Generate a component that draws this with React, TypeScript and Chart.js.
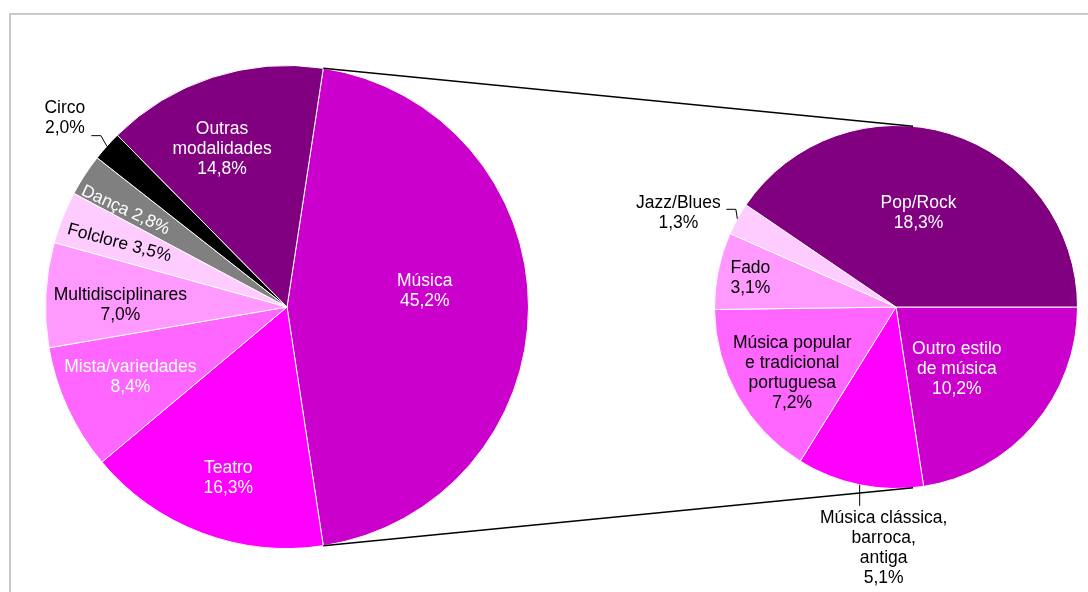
import React, { useEffect, useRef } from 'react';
import { Chart, registerables } from 'chart.js';

Chart.register(...registerables);

// ---- Data ----
const mainCategories = ['Música', 'Teatro', 'Mista/variedades', 'Multidisciplinares', 'Folclore', 'Dança', 'Circo', 'Outras modalidades'];
const mainValues = [45.2, 16.3, 8.4, 7.0, 3.5, 2.8, 2.0, 14.8];
const mainLabelLines = [['Música'], ['Teatro'], ['Mista/variedades'], ['Multidisciplinares'], ['Folclore'], ['Dança'], ['Circo'], ['Outras', 'modalidades']];

const musicCategories = ['Outro estilo de música', 'Música clássica, barroca, antiga', 'Música popular e tradicional portuguesa', 'Fado', 'Jazz/Blues', 'Pop/Rock'];
const musicValues = [10.2, 5.1, 7.2, 3.1, 1.3, 18.3];
const musicLabelLines = [['Outro estilo', 'de música'], ['Música clássica,', 'barroca,', 'antiga'], ['Música popular', 'e tradicional', 'portuguesa'], ['Fado'], ['Jazz/Blues'], ['Pop/Rock']];

// ---- Styles ----
const mainColors = ['#CC00CC', '#FF00FF', '#FF66FF', '#FF99FF', '#FFCCFF', '#808080', '#000000', '#800080'];
const musicColors = ['#CC00CC', '#FF00FF', '#FF66FF', '#FF99FF', '#FFCCFF', '#800080'];

type LabelStyle = {
  frac?: number; dAng?: number; color: string; inline?: boolean; rot?: number;
  outside?: boolean; offset?: [number, number]; leader?: [number, number][];
};

const mainLabelStyle: LabelStyle[] = [
  { frac: 0.574, dAng: -6.4, color: '#ffffff' },
  { frac: 0.751, dAng: -1.8, color: '#ffffff' },
  { frac: 0.711, dAng: 0.6, color: '#ffffff' },
  { frac: 0.69, dAng: -2.4, color: '#000000' },
  { frac: 0.743, dAng: -0.9, color: '#000000', inline: true, rot: 15 },
  { frac: 0.78, dAng: -2.2, color: '#ffffff', inline: true, rot: 25 },
  { outside: true, color: '#000000', offset: [-42, -28], leader: [[-6, -10.5], [-15.5, -10.5]] },
  { frac: 0.706, dAng: -4.4, color: '#ffffff' },
];

const musicLabelStyle: LabelStyle[] = [
  { frac: 0.478, dAng: 4.9, color: '#ffffff' },
  { outside: true, color: '#000000', offset: [24, 63], leader: [[0, 21]] },
  { frac: 0.677, dAng: -2.9, color: '#000000' },
  { frac: 0.818, dAng: -0.3, color: '#000000' },
  { outside: true, color: '#000000', offset: [-59, -5.5], leader: [[-1.5, -9.5], [-11, -9.5]] },
  { frac: 0.534, dAng: -3.7, color: '#ffffff' },
];

const FONT = '17.5px "Liberation Sans", Arial, sans-serif';
const LINE_H = 20;
const CONNECTOR_ANGLE = 5.4;

const fmt = (v: number) => v.toFixed(1).replace('.', ',') + '%';

function drawLabels(chart: any, lines: string[][], values: number[], styles: LabelStyle[]) {
  const ctx = chart.ctx as CanvasRenderingContext2D;
  const meta = chart.getDatasetMeta(0);
  meta.data.forEach((arc: any, i: number) => {
    const { x, y, startAngle, endAngle, outerRadius } = arc.getProps(['x', 'y', 'startAngle', 'endAngle', 'outerRadius'], true);
    const st = styles[i];
    const mid = (startAngle + endAngle) / 2;
    const pct = fmt(values[i]);
    const textLines = st.inline ? [lines[i].join(' ') + ' ' + pct] : [...lines[i], pct];
    let cx = 0, cy = 0;
    ctx.save();
    if (st.outside) {
      const ex = x + Math.cos(mid) * outerRadius;
      const ey = y + Math.sin(mid) * outerRadius;
      ctx.strokeStyle = '#000000';
      ctx.lineWidth = 1;
      ctx.beginPath();
      ctx.moveTo(ex, ey);
      (st.leader || []).forEach(([dx, dy]) => ctx.lineTo(ex + dx, ey + dy));
      ctx.stroke();
      cx = ex + (st.offset ? st.offset[0] : 0);
      cy = ey + (st.offset ? st.offset[1] : 0);
    } else {
      const a = mid + ((st.dAng || 0) * Math.PI) / 180;
      cx = x + Math.cos(a) * outerRadius * (st.frac || 0.6);
      cy = y + Math.sin(a) * outerRadius * (st.frac || 0.6);
    }
    ctx.translate(cx, cy);
    if (st.rot) ctx.rotate((st.rot * Math.PI) / 180);
    ctx.font = FONT;
    ctx.fillStyle = st.color;
    ctx.textAlign = 'center';
    ctx.textBaseline = 'middle';
    const n = textLines.length;
    textLines.forEach((t, k) => ctx.fillText(t, 0, (k - (n - 1) / 2) * LINE_H));
    ctx.restore();
  });
}

export default function App() {
  const c1 = useRef<HTMLCanvasElement>(null);
  const c2 = useRef<HTMLCanvasElement>(null);

  useEffect(() => {
    const total = mainValues.reduce((a, b) => a + b, 0);
    const rotation1 = 90 - (mainValues[0] / total) * 360 / 2;

    const chart1 = new Chart(c1.current as HTMLCanvasElement, {
      type: 'pie',
      data: {
        labels: mainCategories,
        datasets: [{ data: mainValues, backgroundColor: mainColors, borderColor: '#ffffff', borderWidth: 1 }],
      },
      options: {
        animation: false,
        responsive: false,
        devicePixelRatio: 1,
        events: [],
        rotation: rotation1,
        layout: { padding: { left: 45, top: 65, right: 559, bottom: 43 } },
        plugins: { legend: { display: false }, tooltip: { enabled: false } },
      },
      plugins: [{
        id: 'mainLabels',
        afterDraw: (chart: any) => drawLabels(chart, mainLabelLines, mainValues, mainLabelStyle),
      }],
    } as any);

    const chart2 = new Chart(c2.current as HTMLCanvasElement, {
      type: 'pie',
      data: {
        labels: musicCategories,
        datasets: [{ data: musicValues, backgroundColor: musicColors, borderColor: '#ffffff', borderWidth: 1 }],
      },
      options: {
        animation: false,
        responsive: false,
        devicePixelRatio: 1,
        events: [],
        rotation: 90,
        layout: { padding: { left: 714, top: 125, right: 10, bottom: 103 } },
        plugins: { legend: { display: false }, tooltip: { enabled: false } },
      },
      plugins: [{
        id: 'musicLabels',
        afterDraw: (chart: any) => {
          drawLabels(chart, musicLabelLines, musicValues, musicLabelStyle);
          // connector lines between the Música slice and the secondary pie
          const a = chart1.getDatasetMeta(0).data[0] as any;
          const p = a.getProps(['x', 'y', 'startAngle', 'endAngle', 'outerRadius'], true);
          const b = chart.getDatasetMeta(0).data[0] as any;
          const q = b.getProps(['x', 'y', 'outerRadius'], true);
          const ctx = chart.ctx as CanvasRenderingContext2D;
          const top = (-90 + CONNECTOR_ANGLE) * Math.PI / 180;
          const bot = (90 - CONNECTOR_ANGLE) * Math.PI / 180;
          ctx.save();
          ctx.strokeStyle = '#000000';
          ctx.lineWidth = 1.4;
          ctx.beginPath();
          ctx.moveTo(p.x + Math.cos(p.startAngle) * p.outerRadius, p.y + Math.sin(p.startAngle) * p.outerRadius);
          ctx.lineTo(q.x + Math.cos(top) * q.outerRadius, q.y + Math.sin(top) * q.outerRadius);
          ctx.moveTo(p.x + Math.cos(p.endAngle) * p.outerRadius, p.y + Math.sin(p.endAngle) * p.outerRadius);
          ctx.lineTo(q.x + Math.cos(bot) * q.outerRadius, q.y + Math.sin(bot) * q.outerRadius);
          ctx.stroke();
          ctx.restore();
        },
      }],
    } as any);

    return () => {
      chart2.destroy();
      chart1.destroy();
    };
  }, []);

  const canvasStyle: React.CSSProperties = { position: 'absolute', left: 0, top: 0, width: 1088, height: 592 };

  return (
    <div style={{ position: 'fixed', left: 0, top: 0, width: 1088, height: 592, overflow: 'hidden', background: '#ffffff' }}>
      <div style={{ position: 'absolute', left: 9, top: 13, width: 1200, height: 700, border: '2px solid #c8c8c8', boxSizing: 'border-box' }} />
      <canvas ref={c1} width={1088} height={592} style={canvasStyle} />
      <canvas ref={c2} width={1088} height={592} style={canvasStyle} />
    </div>
  );
}
